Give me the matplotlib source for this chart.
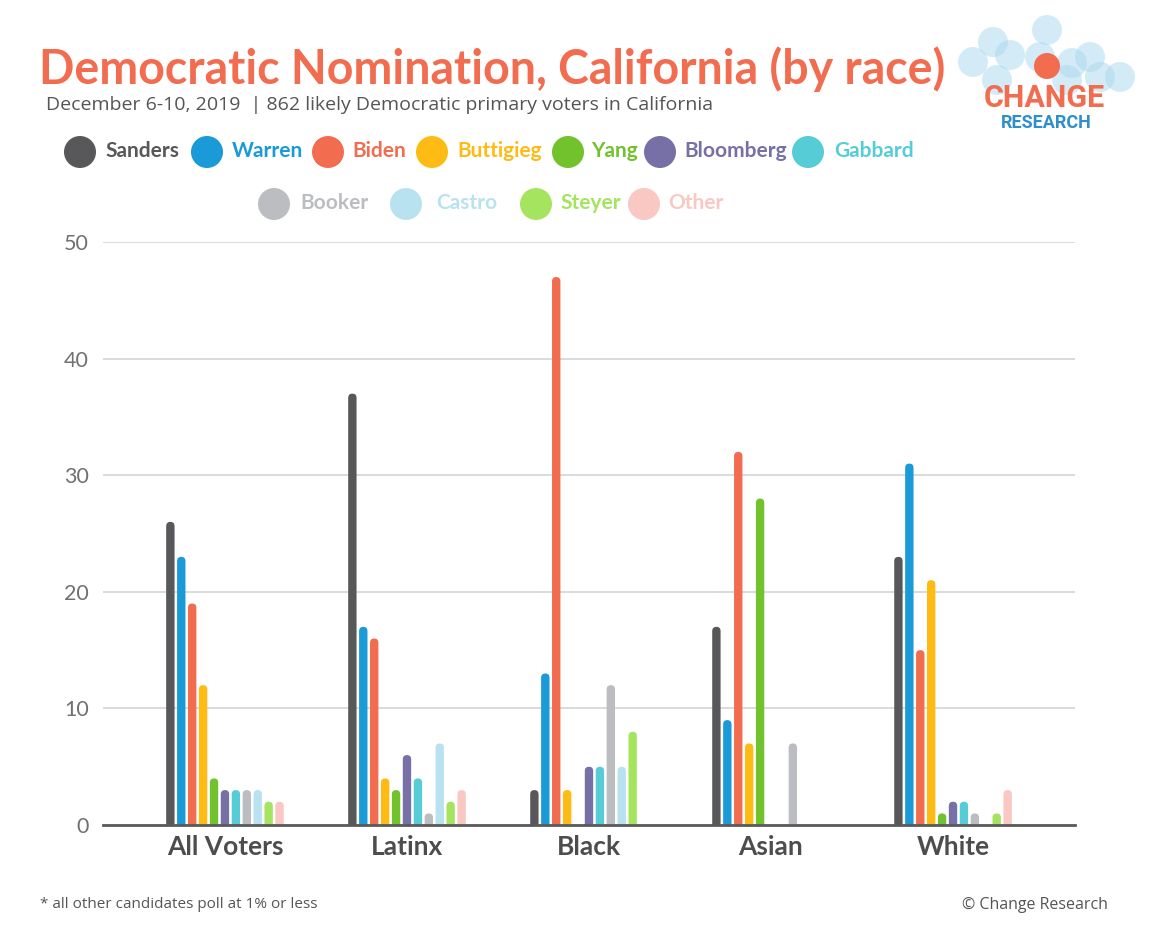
import numpy as np
import matplotlib.pyplot as plt
from matplotlib.patches import Circle, FancyBboxPatch

groups = ["All Voters", "Latinx", "Black", "Asian", "White"]
candidates = ["Sanders", "Warren", "Biden", "Buttigieg", "Yang", "Bloomberg",
              "Gabbard", "Booker", "Castro", "Steyer", "Other"]
colors = ["#58585a", "#1a9ad6", "#f26c50", "#fdbb14", "#72c22d", "#7670a6",
          "#56cdd6", "#bcbdc0", "#b9e2f1", "#a4e45f", "#f9c8c2"]

# percent by group, one list per candidate
sanders = [26, 37, 3, 17, 23]
warren = [23, 17, 13, 9, 31]
biden = [19, 16, 47, 32, 15]
buttigieg = [12, 4, 3, 7, 21]
yang = [4, 3, 0, 28, 1]
bloomberg = [3, 6, 5, 0, 2]
gabbard = [3, 4, 5, 0, 2]
booker = [3, 1, 12, 7, 1]
castro = [3, 7, 5, 0, 0]
steyer = [2, 2, 8, 0, 1]
other = [2, 3, 0, 0, 3]
values = [sanders, warren, biden, buttigieg, yang, bloomberg, gabbard,
          booker, castro, steyer, other]

plt.rcParams['font.family'] = ['Lato', 'DejaVu Sans']

W, H = 1160, 944
fig = plt.figure(figsize=(W / 100, H / 100), dpi=100)
ax = fig.add_axes([0.0888, 0.126, 0.8379, 0.6176])

x = np.arange(len(groups))
step = 0.06
width = 0.046
xlim = (-0.67, 4.67)
ylim = (0, 50)
# px per data unit, used to keep the rounded bar tops circular
px_x = 0.8379 * W / (xlim[1] - xlim[0])
px_y = 0.6176 * H / (ylim[1] - ylim[0])
for i, (name, col) in enumerate(zip(candidates, colors)):
    v = np.array(values[i], dtype=float)
    bars = ax.bar(x + (i - 5) * step, v, width=width, color=col, zorder=3)
    for b, val in zip(bars, v):
        b.remove()
        if val <= 0:
            continue
        r = width / 2
        fb = FancyBboxPatch((b.get_x(), -1.0), width, val + 1.0,
                            boxstyle=f"round,pad=0,rounding_size={r}",
                            mutation_aspect=px_x / px_y,
                            color=col, lw=0, zorder=3)
        ax.add_patch(fb)

ax.set_xlim(*xlim)
ax.set_ylim(*ylim)
ax.set_yticks(range(0, 51, 10))
ax.set_xticks(x)
ax.set_xticklabels(groups, fontsize=19, fontweight='bold', color='#4d4d4d')
ax.tick_params(axis='y', length=0, pad=10, labelsize=15.5, labelcolor='#707070')
ax.tick_params(axis='x', length=0, pad=7)
ax.grid(axis='y', color='#d4d4d4', linewidth=1.2, zorder=0)
for s in ['top', 'right', 'left']:
    ax.spines[s].set_visible(False)
ax.spines['bottom'].set_color('#5a5a5a')
ax.spines['bottom'].set_linewidth(2)
ax.spines['bottom'].set_zorder(4)

# overlay in pixel coordinates for title block, legend and logo
ov = fig.add_axes([0, 0, 1, 1], zorder=5)
ov.set_xlim(0, W)
ov.set_ylim(H, 0)
ov.axis('off')

ov.text(39, 69, "Democratic Nomination, California (by race)",
        fontsize=33.5, fontweight='bold', color='#f26c50', va='center')
ov.text(46, 105, "December 6-10, 2019  | 862 likely Democratic primary voters in California",
        fontsize=14, color='#555555', va='center', family=['Open Sans', 'DejaVu Sans'])

# legend: two centred rows of dots and coloured names
leg_dot_x = [80, 207, 328, 432, 568, 660, 808, 274, 406, 536, 644]
leg_txt_x = [105, 232, 352, 457, 591, 684, 834, 300, 436, 560, 668]
leg_y = [152] * 7 + [204] * 4
for name, col, dx, tx, ly in zip(candidates, colors, leg_dot_x, leg_txt_x, leg_y):
    ov.add_patch(Circle((dx, ly), 16, color=col, lw=0))
    ov.text(tx, ly - 1, name, fontsize=15, fontweight='bold', color=col,
            va='center')

# logo
for cx, cy in [(973, 62), (993, 42), (1010, 55), (1047, 30), (1040, 57),
               (1072, 63), (1090, 57), (1120, 77), (1100, 77), (997, 80),
               (1067, 80)]:
    ov.add_patch(Circle((cx, cy), 15, color='#a9d8ee', alpha=0.5, lw=0))
ov.add_patch(Circle((1047, 66), 13, color='#f26c50', lw=0))
ov.text(1044, 98, "CHANGE", ha='center', va='center', fontsize=22,
        fontweight='bold', color='#f26c50', family=['Roboto', 'DejaVu Sans'])
ov.text(1046, 123, "RESEARCH", ha='center', va='center', fontsize=13,
        fontweight='bold', color='#2f8fca', family=['Roboto', 'DejaVu Sans'])

# footer
ov.text(40, 905, "* all other candidates poll at 1% or less",
        fontsize=11, color='#555555', va='center', family=['Open Sans', 'DejaVu Sans'])
ov.text(1108, 905, "\u00a9 Change Research", fontsize=11.5,
        color='#555555', va='center', ha='right', family=['Open Sans', 'DejaVu Sans'])

fig.savefig("out.png", dpi=100)
